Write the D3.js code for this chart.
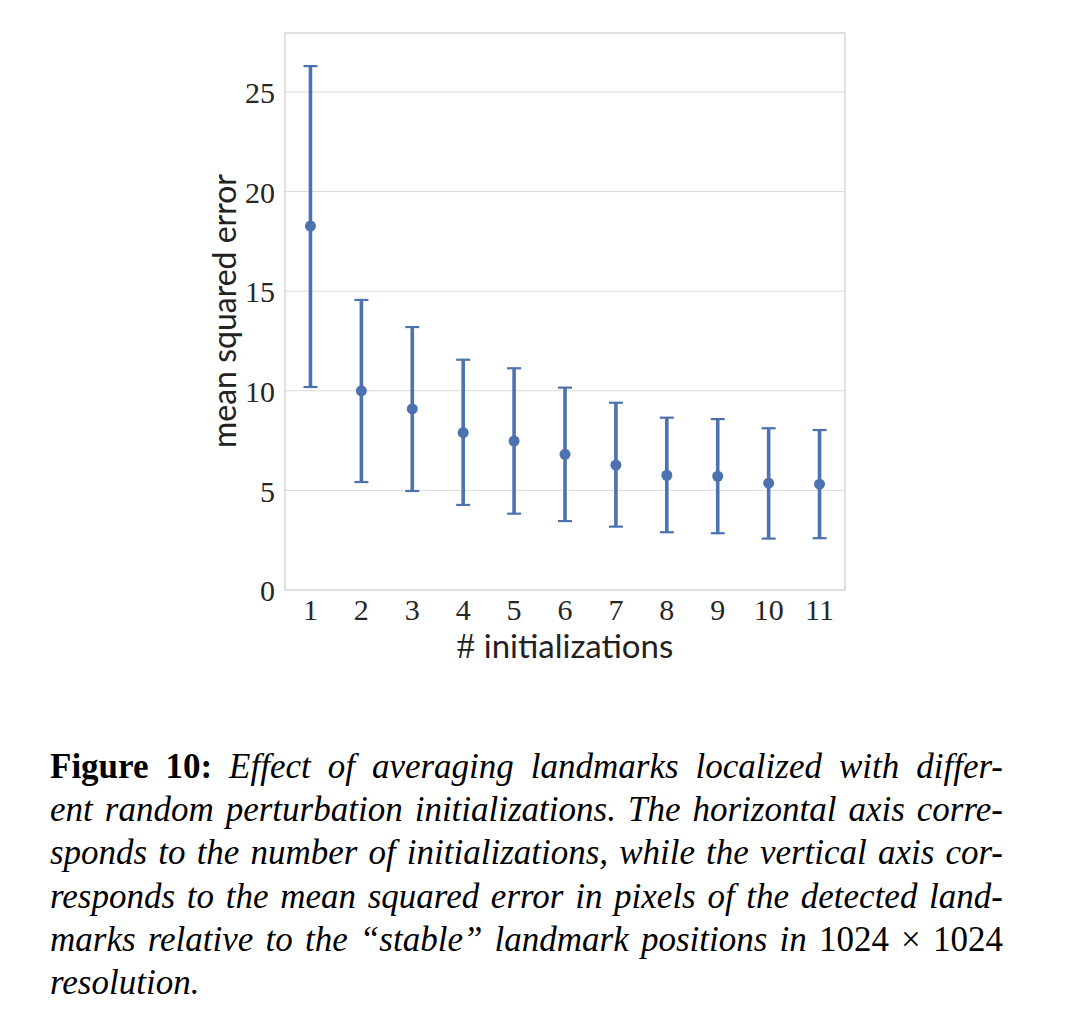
<html>
<head>
<script src="https://d3js.org/d3.v7.min.js" charset="utf-8"></script>
<style>
body { margin: 0; background: white; }
svg { display: block; }
.tick-label { font-family: "Liberation Serif", serif; font-size: 30px; fill: #262626; }
.axis-title { font-family: Lato, "Open Sans", sans-serif; font-size: 33px; fill: #222; }
.caption { font-family: "Liberation Serif", serif; font-size: 35px; fill: black; }
</style>
</head>
<body>
<div id="canvas"></div>
<script>
// values
var inits = ["1","2","3","4","5","6","7","8","9","10","11"];
var meanErr = [18.27, 10.0, 9.09, 7.9, 7.48, 6.81, 6.27, 5.76, 5.71, 5.36, 5.31];
var upper   = [26.3, 14.56, 13.2, 11.56, 11.13, 10.16, 9.4, 8.65, 8.58, 8.12, 8.03];
var lower   = [10.19, 5.42, 4.97, 4.27, 3.83, 3.46, 3.18, 2.9, 2.85, 2.58, 2.6];
var yTicks = [0, 5, 10, 15, 20, 25];

var captionLines = [
	[["Figure 10:", "b"], ["Effect of averaging landmarks localized with differ-", "i"]],
	[["ent random perturbation initializations. The horizontal axis corre-", "i"]],
	[["sponds to the number of initializations, while the vertical axis cor-", "i"]],
	[["responds to the mean squared error in pixels of the detected land-", "i"]],
	[["marks relative to the “stable” landmark positions in", "i"], ["1024 × 1024", "r"]],
	[["resolution.", "i"]]
];

var blue = "#4c72b0";
var pLeft = 285, pRight = 845, pTop = 33, pBottom = 590;

var svg = d3.select("#canvas").append("svg").attr("width", 1072).attr("height", 1020);

var x = d3.scaleBand().domain(inits).range([pLeft, pRight]);
var y = d3.scaleLinear().domain([0, 27.96]).range([pBottom, pTop]);

// grid
svg.selectAll("line.grid").data(yTicks.slice(1)).enter().append("line")
	.attr("class", "grid")
	.attr("x1", pLeft).attr("x2", pRight)
	.attr("y1", d => y(d)).attr("y2", d => y(d))
	.attr("stroke", "#dadada").attr("stroke-width", 1);

// frame
svg.append("rect")
	.attr("x", pLeft).attr("y", pTop)
	.attr("width", pRight - pLeft).attr("height", pBottom - pTop)
	.attr("fill", "none").attr("stroke", "#cccccc").attr("stroke-width", 1.2);

// axes (labels only)
var yAxis = svg.append("g").attr("transform", "translate(" + pLeft + ",0)")
	.call(d3.axisLeft(y).tickValues(yTicks).tickSize(0).tickPadding(10));
yAxis.select(".domain").remove();
yAxis.selectAll("text").attr("class", "tick-label").attr("fill", null).attr("dy", "0.36em");

var xAxis = svg.append("g").attr("transform", "translate(0," + pBottom + ")")
	.call(d3.axisBottom(x).tickSize(0).tickPadding(9));
xAxis.select(".domain").remove();
xAxis.selectAll("text").attr("class", "tick-label").attr("fill", null);

// error bars
var idx = d3.range(inits.length);
var cx = i => x(inits[i]) + x.bandwidth() / 2;
svg.selectAll("line.bar").data(idx).enter().append("line")
	.attr("class", "bar")
	.attr("x1", cx).attr("x2", cx)
	.attr("y1", i => y(lower[i])).attr("y2", i => y(upper[i]))
	.attr("stroke", blue).attr("stroke-width", 3.6);
[upper, lower].forEach(function(arr) {
	svg.selectAll(null).data(idx).enter().append("line")
		.attr("x1", i => cx(i) - 7).attr("x2", i => cx(i) + 7)
		.attr("y1", i => y(arr[i])).attr("y2", i => y(arr[i]))
		.attr("stroke", blue).attr("stroke-width", 2.2);
});
svg.selectAll("circle").data(idx).enter().append("circle")
	.attr("cx", cx).attr("cy", i => y(meanErr[i])).attr("r", 5.5)
	.attr("fill", blue);

// axis titles
svg.append("text").attr("class", "axis-title")
	.attr("transform", "translate(236,311) rotate(-90)")
	.attr("text-anchor", "middle")
	.style("font-size", "32px")
	.text("mean squared error");
var xt = svg.append("text").attr("class", "axis-title")
	.attr("x", 565).attr("y", 658).attr("text-anchor", "middle");
xt.append("tspan").style("font-family", "Liberation Serif, serif").style("font-size", "36px").text("# ");
xt.append("tspan").text("initializations");

// caption, justified word by word
var capLeft = 50, capRight = 1003, base0 = 778, lineH = 43.2;
captionLines.forEach(function(line, li) {
	var words = [];
	line.forEach(function(seg) {
		seg[0].split(" ").forEach(function(w) { words.push({t: w, s: seg[1]}); });
	});
	var nodes = words.map(function(w) {
		var t = svg.append("text").attr("class", "caption").attr("y", base0 + li * lineH).text(w.t);
		if (w.s === "b") t.attr("font-weight", "bold");
		if (w.s === "i") t.attr("font-style", "italic");
		return t;
	});
	var widths = nodes.map(n => n.node().getComputedTextLength());
	var total = d3.sum(widths);
	var last = li === captionLines.length - 1;
	var gap = last ? 8 : (capRight - capLeft - total) / (words.length - 1);
	var pos = capLeft;
	nodes.forEach(function(n, k) {
		n.attr("x", pos);
		pos += widths[k] + gap;
	});
});
</script>
</body>
</html>
